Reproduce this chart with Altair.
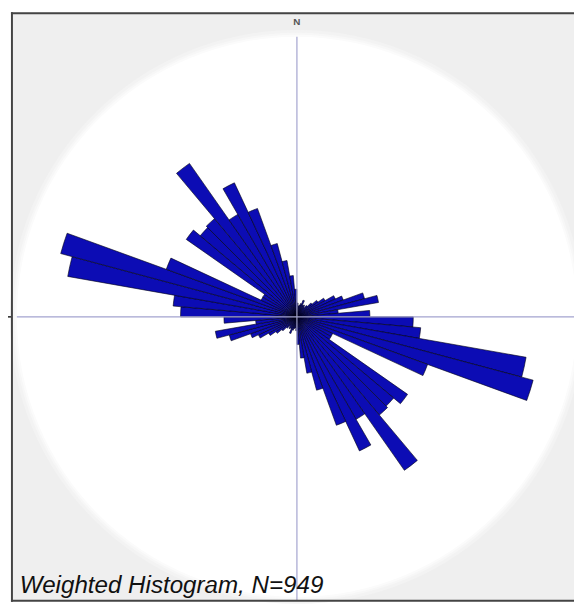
import math
import altair as alt
import pandas as pd

# Axial rose diagram: 5-degree bins from 0 to 175 (mirrored to 180-355)
bin_start = [0, 5, 10, 15, 20, 25, 30, 35, 40, 45, 50, 55, 60, 65, 70, 75, 80, 85,
             90, 95, 100, 105, 110, 115, 120, 125, 130, 135, 140, 145, 150, 155, 160, 165, 170, 175]
bin_value = [14, 11, 12, 14, 18, 13, 14, 12, 15, 20, 26, 33, 43, 50, 71, 84, 42, 74,
             118, 126, 236, 248, 141, 40, 40, 137, 128, 130, 190, 120, 150, 117, 77, 58, 42, 28]
bin_width = 5
max_value = 285
title_text = "Weighted Histogram, N=949"
north_label = "N"

rows = []
for a, v in zip(bin_start, bin_value):
    rows.append({"az": a, "az2": a + bin_width, "len": v})
for a, v in zip(bin_start, bin_value):
    rows.append({"az": a + 180, "az2": a + 180 + bin_width, "len": v})
df = pd.DataFrame(rows)

W, H = 574, 598
X0 = 3            # left frame position inside the view
CX, CY = 293, 309
R = 284
one = pd.DataFrame({"k": [0]})

panel = alt.Chart(one).mark_rect(fill="#efefef", strokeWidth=0).encode(
    x=alt.value(X0), x2=alt.value(W), y=alt.value(0), y2=alt.value(H - 1))

def disc(r, color):
    return alt.Chart(one).mark_arc(theta=0, theta2=2 * math.pi, radius=r, fill=color,
                                   strokeWidth=0).encode(x=alt.value(CX), y=alt.value(CY))

bg = [disc(R + 7, "#f3f3f3"), disc(R + 4, "#f7f7f7"), disc(R + 2, "#fbfbfb"), disc(R, "#ffffff")]

bars = alt.Chart(df).mark_arc(fill="#0c0cb4", stroke="#000010", strokeWidth=0.6).encode(
    theta=alt.Theta("az:Q", scale=alt.Scale(domain=[0, 360], range=[0, 2 * math.pi])),
    theta2=alt.Theta2("az2:Q"),
    radius=alt.Radius("len:Q", scale=alt.Scale(type="linear", domain=[0, max_value], range=[0, max_value])),
    x=alt.value(CX), y=alt.value(CY),
    order=alt.Order("az:Q"),
)

line_color = "#a3a3cf"
hline = alt.Chart(one).mark_rule(color=line_color, strokeWidth=1.2).encode(
    x=alt.value(CX - R), x2=alt.value(W), y=alt.value(CY))
vline = alt.Chart(one).mark_rule(color=line_color, strokeWidth=1.2).encode(
    x=alt.value(CX), y=alt.value(CY - R), y2=alt.value(H - 1))

nlab = alt.Chart(one).mark_text(fontSize=10, fontWeight="bold", color="#555555",
                                font="Liberation Sans").encode(
    x=alt.value(CX), y=alt.value(10), text=alt.value(north_label))

title = alt.Chart(one).mark_text(fontSize=24.5, fontStyle="italic", color="#111111",
                                 font="Liberation Sans", align="left", baseline="alphabetic").encode(
    x=alt.value(X0 + 9), y=alt.value(589), text=alt.value(title_text))

frame_color = "#444444"
f_left = alt.Chart(one).mark_rule(color=frame_color, strokeWidth=2).encode(
    x=alt.value(X0 + 1), y=alt.value(0), y2=alt.value(H))
f_top = alt.Chart(one).mark_rule(color=frame_color, strokeWidth=2).encode(
    x=alt.value(X0), x2=alt.value(W), y=alt.value(1))
f_bot = alt.Chart(one).mark_rule(color=frame_color, strokeWidth=2).encode(
    x=alt.value(X0), x2=alt.value(W), y=alt.value(H - 1))
dash = alt.Chart(one).mark_rule(color="#222222", strokeWidth=1.5).encode(
    x=alt.value(0), x2=alt.value(X0), y=alt.value(CY))

chart = alt.layer(panel, *bg, bars, hline, vline, nlab, title, f_left, f_top, f_bot, dash).properties(
    width=W, height=H,
    padding=0,
    autosize=alt.AutoSizeParams(type="none"),
).configure_view(stroke=None, fill="#ffffff")

chart.save("out.html", embed_options={"renderer": "svg", "actions": False})
